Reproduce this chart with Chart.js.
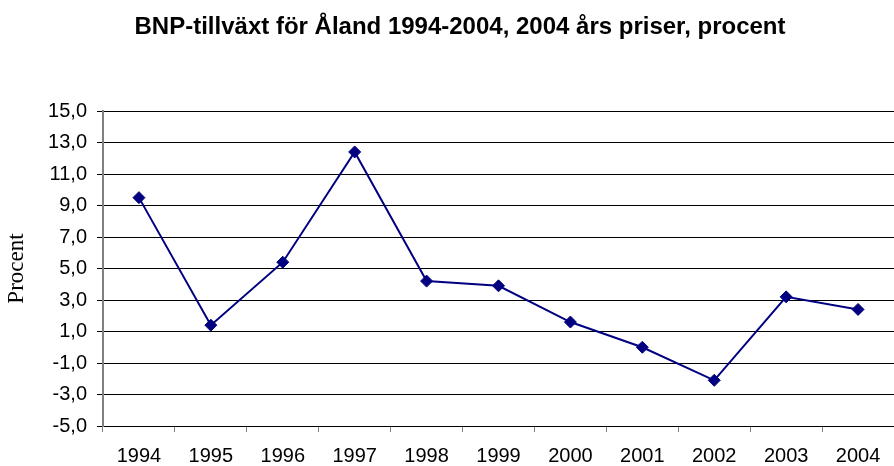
<!DOCTYPE html>
<html>
<head>
<meta charset="utf-8">
<script src="https://cdn.jsdelivr.net/npm/chart.js@4/dist/chart.umd.min.js"></script>
<style>
  html, body { margin: 0; padding: 0; background: #fff; }
  #chart { display: block; }
</style>
</head>
<body>
<canvas id="chart" width="894" height="466"></canvas>
<script>
// år och tillväxt i procent
const years = ['1994', '1995', '1996', '1997', '1998', '1999', '2000', '2001', '2002', '2003', '2004'];
const growth = [9.5, 1.4, 5.4, 12.4, 4.2, 3.9, 1.6, 0.0, -2.1, 3.2, 2.4];
const yMin = -5;
const yMax = 15;
const yStep = 2;

const titleText = 'BNP-tillväxt för Åland 1994-2004, 2004 års priser, procent';
const yTitle = 'Procent';

// rubriken ligger lite till höger om mitten i originalet
const titlePlugin = {
    id: 'rubrik',
    afterDraw(chart) {
        const ctx = chart.ctx;
        ctx.save();
        ctx.font = 'bold 24px "Liberation Sans", Arial, sans-serif';
        ctx.fillStyle = '#000';
        ctx.textAlign = 'center';
        ctx.textBaseline = 'middle';
        ctx.fillText(titleText, 460, 27);
        ctx.restore();
    }
};

new Chart(document.getElementById('chart'), {
    type: 'line',
    data: {
        labels: years,
        datasets: [{
            label: 'BNP-tillväxt',
            data: growth,
            borderColor: '#000080',
            backgroundColor: '#000080',
            borderWidth: 2,
            pointStyle: 'rectRot',
            pointRadius: 6,
            pointBorderWidth: 1,
            pointBorderColor: '#000080',
            pointBackgroundColor: '#000080',
            tension: 0
        }]
    },
    plugins: [titlePlugin],
    options: {
        responsive: false,
        animation: false,
        devicePixelRatio: 1,
        layout: {
            autoPadding: false,
            padding: { top: 111, left: 0, right: -5, bottom: 0 }
        },
        plugins: {
            legend: { display: false },
            tooltip: { enabled: false },
            title: { display: false }
        },
        scales: {
            x: {
                offset: true,
                afterFit: scale => {
                    scale.height = 40;
                    scale.paddingLeft = 0;
                    scale.paddingRight = 0;
                },
                grid: {
                    offset: true,
                    drawOnChartArea: false,
                    color: '#808080',
                    tickLength: 6
                },
                border: { display: false },
                ticks: {
                    color: '#000',
                    padding: 12,
                    maxRotation: 0,
                    font: { family: 'Liberation Sans, Arial, sans-serif', size: 20 }
                }
            },
            y: {
                min: yMin,
                max: yMax,
                afterFit: scale => { scale.width = 103; },
                grid: {
                    color: '#000',
                    lineWidth: 1,
                    tickLength: 6
                },
                border: { color: '#808080', width: 2 },
                ticks: {
                    stepSize: yStep,
                    color: '#000',
                    padding: 10,
                    font: { family: 'Liberation Sans, Arial, sans-serif', size: 20 },
                    callback: value => value.toFixed(1).replace('.', ',')
                },
                title: {
                    display: true,
                    text: yTitle,
                    color: '#000',
                    padding: { top: 3, bottom: 0 },
                    font: { family: 'Liberation Serif, Times New Roman, serif', size: 23 }
                }
            }
        }
    }
});
</script>
</body>
</html>
